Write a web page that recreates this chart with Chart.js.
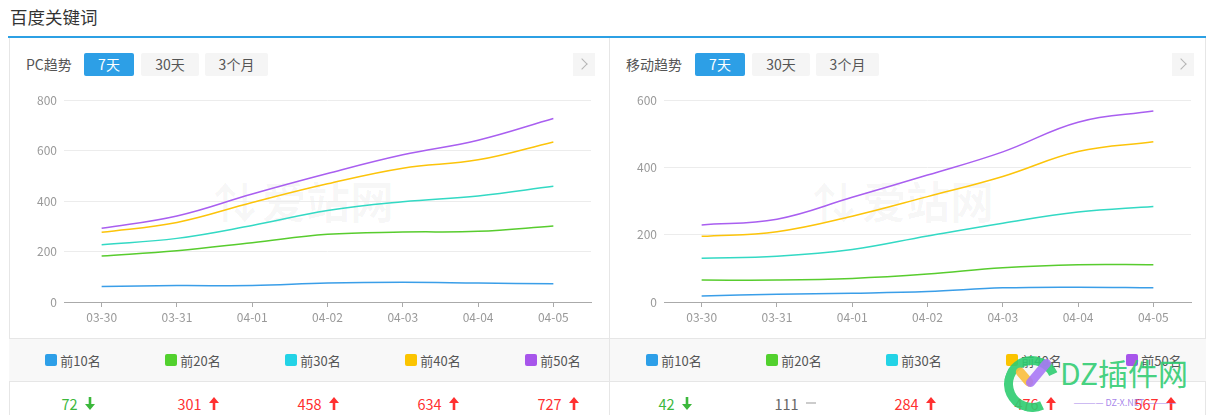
<!DOCTYPE html>
<html><head><meta charset="utf-8">
<script src="https://cdn.jsdelivr.net/npm/chart.js@4"></script>
<style>
*{margin:0;padding:0;box-sizing:border-box}
body{width:1206px;height:415px;overflow:hidden;background:#fff;font-family:"Microsoft YaHei","Noto Sans CJK SC",sans-serif;position:relative}
.abs{position:absolute;white-space:nowrap}
.title{left:10px;top:5px;font-size:17.5px;color:#333;line-height:24px}
.bluebar{left:8px;top:36px;width:1198px;height:2px;background:#2ca0e4}
.vline{width:1px;background:#e6e6e6;top:38px;height:377px}
.hdr{font-size:14px;color:#555;line-height:23px;top:53px}
.btn{top:53px;height:23px;line-height:23px;font-size:14px;text-align:center;background:#f5f5f5;color:#555;border-radius:2px}
.btn.on{background:#2d9fe6;color:#fff}
.nav{top:53px;width:22px;height:23px;background:#f5f5f5}
.nav i{position:absolute;left:5px;top:7px;width:8px;height:8px;border-top:1px solid #b5b5b5;border-right:1px solid #b5b5b5;transform:rotate(45deg)}
.legrow{left:9px;top:338px;width:1197px;height:44px;background:#f8f8f8;border-top:1px solid #e6e6e6;border-bottom:1px solid #e6e6e6}
.cols{display:flex;top:338px;height:44px}
.col{width:120px;display:flex;align-items:center;justify-content:center;font-size:13px;color:#555}
.sq{width:12px;height:12px;border-radius:2px;margin-right:3px}
.vals{display:flex;top:392px;height:22px}
.vals .col{font-size:14.5px}
.up{color:#ff3030}.dn{color:#3cb83c}.eq{color:#666}
.arr{margin-left:7px;display:inline-block;width:10px;height:13px}
.wm{font-size:44px;line-height:48px;color:rgba(0,0,0,0.035);font-weight:bold}
.cv{width:590px;height:240px;top:85px}
</style></head><body>
<div class="abs title">百度关键词</div>
<div class="abs bluebar"></div>
<div class="abs vline" style="left:9px"></div>
<div class="abs vline" style="left:609px"></div>
<div class="abs vline" style="left:1205px"></div>

<div class="abs hdr" style="left:26px">PC趋势</div>
<div class="abs btn on" style="left:84px;width:50px">7天</div>
<div class="abs btn" style="left:141px;width:58px">30天</div>
<div class="abs btn" style="left:205px;width:63px">3个月</div>
<div class="abs nav" style="left:573px"><i></i></div>

<div class="abs hdr" style="left:626px">移动趋势</div>
<div class="abs btn on" style="left:695px;width:50px">7天</div>
<div class="abs btn" style="left:752px;width:58px">30天</div>
<div class="abs btn" style="left:816px;width:63px">3个月</div>
<div class="abs nav" style="left:1172px"><i></i></div>

<div class="abs wm" style="left:213px;top:176px">⇅</div>
<div class="abs wm" style="left:262px;top:176px">爱站网</div>
<div class="abs wm" style="left:812px;top:176px">⇅</div>
<div class="abs wm" style="left:862px;top:176px">爱站网</div>

<div class="abs cv" style="left:10px"><canvas id="pc"></canvas></div>
<div class="abs cv" style="left:610px"><canvas id="mb"></canvas></div>

<div class="abs legrow"></div>
<div class="abs cols" id="legL" style="left:13px"></div>
<div class="abs cols" id="legR" style="left:614px"></div>
<div class="abs vline" style="left:609px;top:338px;height:77px"></div>
<div class="abs vals" id="valL" style="left:18px"></div>
<div class="abs vals" id="valR" style="left:615px"></div>

<div class="abs" style="left:1004px;top:356px;width:56px;height:56px;border:9px solid rgba(46,204,113,0.9);border-radius:50%;border-right-color:transparent;transform:rotate(20deg)"></div>
<div class="abs" style="left:1020px;top:366px;width:9px;height:22px;border-radius:5px;background:rgba(250,190,60,0.9);transform:rotate(-40deg)"></div>
<div class="abs" style="left:1034px;top:356px;width:9px;height:34px;border-radius:5px;background:rgba(168,120,245,0.9);transform:rotate(40deg)"></div>
<div class="abs" style="left:1060px;top:352px;font-size:30px;color:rgba(46,204,113,0.9);line-height:40px">DZ插件网</div>
<div class="abs" style="left:1060px;top:398px;width:130px;font-size:9px;color:rgba(150,110,230,0.85);line-height:10px;text-align:center">———— DZ-X.NET ————</div>

<script>
const categories = ["03-30","03-31","04-01","04-02","04-03","04-04","04-05"];
const seriesNames = ["前10名","前20名","前30名","前40名","前50名"];
const pcTop10 = [61,65,65,75,78,75,72];
const pcTop20 = [182,203,235,268,277,280,301];
const pcTop30 = [227,252,303,362,397,420,458];
const pcTop40 = [276,315,394,468,530,563,634];
const pcTop50 = [292,341,428,509,583,641,727];
const mbTop10 = [18,23,26,31,42,44,42];
const mbTop20 = [65,65,70,83,102,111,111];
const mbTop30 = [130,136,156,196,234,267,284];
const mbTop40 = [195,209,255,313,373,447,476];
const mbTop50 = [229,246,311,377,446,534,567];
const pcYTicks = [0,200,400,600,800];
const mbYTicks = [0,200,400,600];
const pcSummary = ["72","301","458","634","727"];
const pcTrend = ["down","up","up","up","up"];
const mbSummary = ["42","111","284","476","567"];
const mbTrend = ["down","flat","up","up","up"];

const lineColors = ["#3a9ee8","#58cc2e","#33d9c4","#fcc40a","#a95ff0"];
const legendColors = ["#2d9fe8","#52d12e","#23d3e6","#fbc400","#a755eb"];

const arrowUp = '<svg class="arr" viewBox="0 0 10 13"><path d="M5 0 L10 6 L6.3 6 L6.3 13 L3.7 13 L3.7 6 L0 6 Z" fill="#ff3030"/></svg>';
const arrowDn = '<svg class="arr" viewBox="0 0 10 13"><path d="M5 13 L10 7 L6.3 7 L6.3 0 L3.7 0 L3.7 7 L0 7 Z" fill="#3cb83c"/></svg>';
const flat = '<span style="display:inline-block;width:10px;height:2px;background:#ccc;margin-left:7px"></span>';

function buildLegend(id){
  const el=document.getElementById(id);
  seriesNames.forEach((n,i)=>{
    const d=document.createElement('div');d.className='col';
    d.innerHTML='<span class="sq" style="background:'+legendColors[i]+'"></span>'+n;
    el.appendChild(d);
  });
}
function buildVals(id,vals,trend){
  const el=document.getElementById(id);
  vals.forEach((v,i)=>{
    const d=document.createElement('div');d.className='col';
    const t=trend[i];
    const cls=t==='up'?'up':t==='down'?'dn':'eq';
    const ar=t==='up'?arrowUp:t==='down'?arrowDn:flat;
    d.innerHTML='<span class="'+cls+'">'+v+'</span>'+ar;
    el.appendChild(d);
  });
}
buildLegend('legL');buildLegend('legR');
buildVals('valL',pcSummary,pcTrend);buildVals('valR',mbSummary,mbTrend);

function makeChart(id,data,yTicks){
  const max=yTicks[yTicks.length-1];
  new Chart(document.getElementById(id),{
    type:'line',
    data:{labels:categories,datasets:data.map((d,i)=>({label:seriesNames[i],data:d,borderColor:lineColors[i],borderWidth:1.5,pointRadius:0,tension:0.4,fill:false}))},
    options:{
      responsive:true,maintainAspectRatio:false,animation:false,
      layout:{padding:{top:15,right:9,left:0,bottom:0}},
      plugins:{legend:{display:false},tooltip:{enabled:false}},
      scales:{
        x:{offset:true,
          grid:{offset:false,drawOnChartArea:false,drawTicks:true,tickLength:5,color:'#aaa'},
          border:{display:true,color:'#aaa',width:1},
          ticks:{color:'#999',font:{size:12,family:'"Microsoft YaHei","Noto Sans CJK SC",sans-serif'},padding:3,maxRotation:0,autoSkip:false},
          afterFit:s=>{s.height=23;}
        },
        y:{min:0,max:max,
          afterBuildTicks:s=>{s.ticks=yTicks.map(v=>({value:v}));},
          grid:{color:'#ececec',drawTicks:false},
          border:{display:false},
          ticks:{color:'#999',font:{size:12,family:'"Microsoft YaHei","Noto Sans CJK SC",sans-serif'},padding:7},
          afterFit:s=>{s.width=54;}
        }
      }
    }
  });
}
makeChart('pc',[pcTop10,pcTop20,pcTop30,pcTop40,pcTop50],pcYTicks);
makeChart('mb',[mbTop10,mbTop20,mbTop30,mbTop40,mbTop50],mbYTicks);
</script>
</body></html>
